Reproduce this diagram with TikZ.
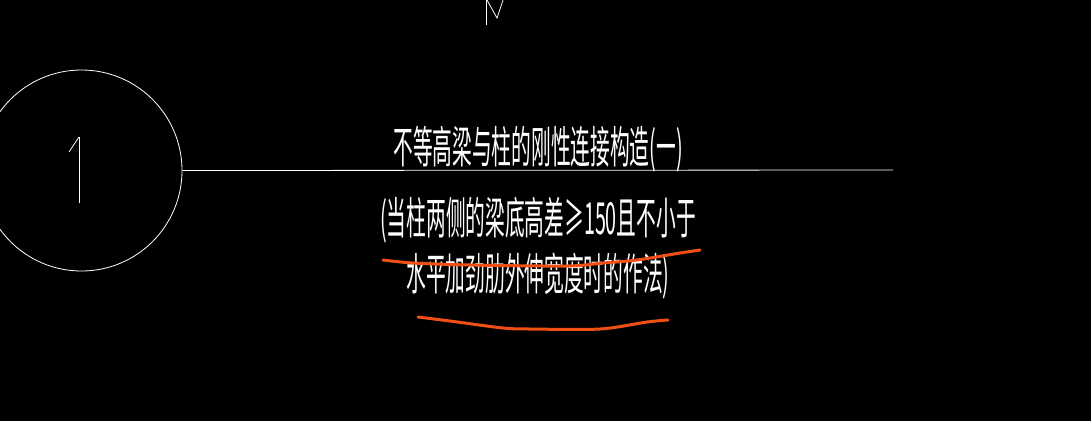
\documentclass[tikz,border=0pt]{standalone}
\usepackage{fontspec}
\newfontfamily\cjk{Noto Sans CJK SC}
\definecolor{redpen}{RGB}{240,80,20}
\tikzset{
  cadtext/.style={text=white, font=\cjk\fontsize{34}{36}\selectfont, xscale=0.58, yscale=1.3, inner sep=0pt},
  pen/.style={draw=redpen, line width=3pt, line cap=round, line join=round}
}
\begin{document}
\begin{tikzpicture}[x=1pt, y=-1pt]
        \fill[black] (0, 0) rectangle (1091, 421);
        \useasboundingbox (0, 0) rectangle (1091, 421);
        \node[draw=white, circle, minimum size=201pt, inner sep=0pt, line width=0.8pt] (c1) at (81.5, 170.5) {};
        \draw[white, line width=0.8pt] (79, 137) -- (79, 203);
        \draw[white, line width=0.8pt] (79, 137) -- (69, 152);
        \coordinate (lineEnd) at (893, 170);
        \draw[white, line width=0.8pt] (c1.east) -- (lineEnd);
        \draw[white, line width=0.8pt] (486, 25) -- (486, 0);
        \draw[white, line width=0.8pt] (487, 0) -- (497, 18) -- (503, 0);
        \node[cadtext] (title) at (538, 149) {不等高梁与柱的刚性连接构造(一)};
        \node[cadtext] (note1) at (538, 220) {(当柱两侧的梁底高差≥150且不小于};
        \node[cadtext] (note2) at (538, 276) {水平加劲肋外伸宽度时的作法)};
        \draw[pen] plot[smooth] coordinates {(383, 260) (413, 263) (470, 265) (567, 266) (603, 263) (637, 260) (680, 253) (700, 250)};
        \draw[pen] plot[smooth] coordinates {(418, 317) (450, 321) (503, 328) (530, 329) (600, 329) (647, 322) (668, 320)};
    \end{tikzpicture}
\end{document}
